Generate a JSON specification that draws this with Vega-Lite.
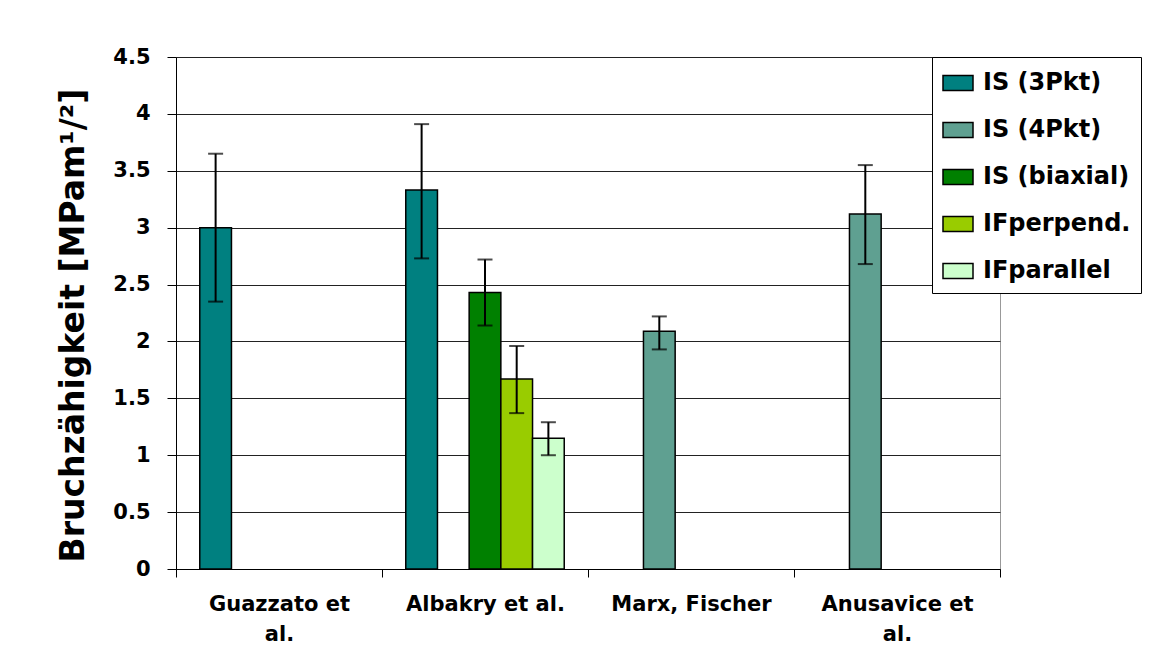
{
  "$schema": "https://vega.github.io/schema/vega-lite/v6.json",
  "width": 824,
  "height": 512,
  "autosize": "none",
  "padding": {"left": 176, "top": 57, "right": 170, "bottom": 91},
  "background": "white",
  "config": {
    "font": "DejaVu Sans",
    "view": {"stroke": "#999999", "strokeWidth": 1}
  },
  "data": {
    "values": [
      {"cat": "Guazzato et|al.", "series": "IS (3Pkt)", "value": 3.0, "lo": 2.35, "hi": 3.65},
      {"cat": "Albakry et al.", "series": "IS (3Pkt)", "value": 3.33, "lo": 2.73, "hi": 3.91},
      {"cat": "Albakry et al.", "series": "IS (biaxial)", "value": 2.43, "lo": 2.14, "hi": 2.72},
      {"cat": "Albakry et al.", "series": "IFperpend.", "value": 1.67, "lo": 1.37, "hi": 1.96},
      {"cat": "Albakry et al.", "series": "IFparallel", "value": 1.15, "lo": 1.0, "hi": 1.29},
      {"cat": "Marx, Fischer", "series": "IS (4Pkt)", "value": 2.09, "lo": 1.93, "hi": 2.22},
      {"cat": "Anusavice et|al.", "series": "IS (4Pkt)", "value": 3.12, "lo": 2.68, "hi": 3.55}
    ]
  },
  "encoding": {
    "x": {
      "field": "cat",
      "type": "nominal",
      "sort": null,
      "scale": {"domain": ["Guazzato et|al.", "Albakry et al.", "Marx, Fischer", "Anusavice et|al."], "paddingInner": 0, "paddingOuter": 0},
      "axis": {
        "title": null,
        "labelAngle": 0,
        "labelExpr": "isValid(datum.value) ? split(datum.value, '|') : ''",
        "labelFontSize": 21,
        "labelFontWeight": "bold",
        "labelColor": "black",
        "labelLineHeight": 30,
        "labelPadding": 16,
        "labelLimit": 300,
        "tickBand": "extent",
        "tickSize": 8,
        "tickColor": "black",
        "domainColor": "black",
        "grid": false
      }
    },
    "xOffset": {
      "field": "series",
      "type": "nominal",
      "scale": {"domain": ["IS (3Pkt)", "IS (4Pkt)", "IS (biaxial)", "IFperpend.", "IFparallel"], "paddingInner": 0, "paddingOuter": 0.75}
    }
  },
  "layer": [
    {
      "mark": {"type": "bar", "stroke": "black", "strokeWidth": 1.5},
      "encoding": {
        "y": {
          "field": "value",
          "type": "quantitative",
          "scale": {"domain": [0, 4.5], "nice": false},
          "axis": {
            "title": "Bruchzähigkeit [MPam¹/²]",
            "titleFontSize": 33,
            "titleFontWeight": "bold",
            "titleColor": "black",
            "titlePadding": 22,
            "titleY": 268,
            "values": [0, 0.5, 1, 1.5, 2, 2.5, 3, 3.5, 4, 4.5],
            "format": "~g",
            "labelFontSize": 21,
            "labelFontWeight": "bold",
            "labelColor": "black",
            "labelPadding": 17,
            "tickSize": 9,
            "tickColor": "black",
            "domainColor": "black",
            "grid": true,
            "gridColor": "#222222",
            "gridWidth": 1
          }
        },
        "color": {
          "field": "series",
          "type": "nominal",
          "scale": {
            "domain": ["IS (3Pkt)", "IS (4Pkt)", "IS (biaxial)", "IFperpend.", "IFparallel"],
            "range": ["#008080", "#5fa091", "#008000", "#99cc00", "#ccffcc"]
          },
          "legend": {
            "title": null,
            "orient": "none",
            "legendX": 756,
            "legendY": 0,
            "fillColor": "white",
            "strokeColor": "black",
            "padding": 10,
            "rowPadding": 19,
            "symbolType": "M-1,-0.5H1V0.5H-1Z",
            "symbolSize": 900,
            "symbolStrokeColor": "black",
            "symbolStrokeWidth": 1.5,
            "symbolOpacity": 1,
            "labelFontSize": 24,
            "labelFontWeight": "bold",
            "labelColor": "black",
            "labelOffset": 9,
            "labelLimit": 300
          }
        }
      }
    },
    {
      "mark": {"type": "rule", "color": "black", "strokeWidth": 2},
      "encoding": {
        "y": {"field": "lo", "type": "quantitative"},
        "y2": {"field": "hi"}
      }
    },
    {
      "mark": {"type": "tick", "color": "black", "thickness": 2, "size": 15, "orient": "horizontal"},
      "encoding": {
        "y": {"field": "lo", "type": "quantitative"}
      }
    },
    {
      "mark": {"type": "tick", "color": "black", "thickness": 2, "size": 15, "orient": "horizontal"},
      "encoding": {
        "y": {"field": "hi", "type": "quantitative"}
      }
    }
  ]
}
